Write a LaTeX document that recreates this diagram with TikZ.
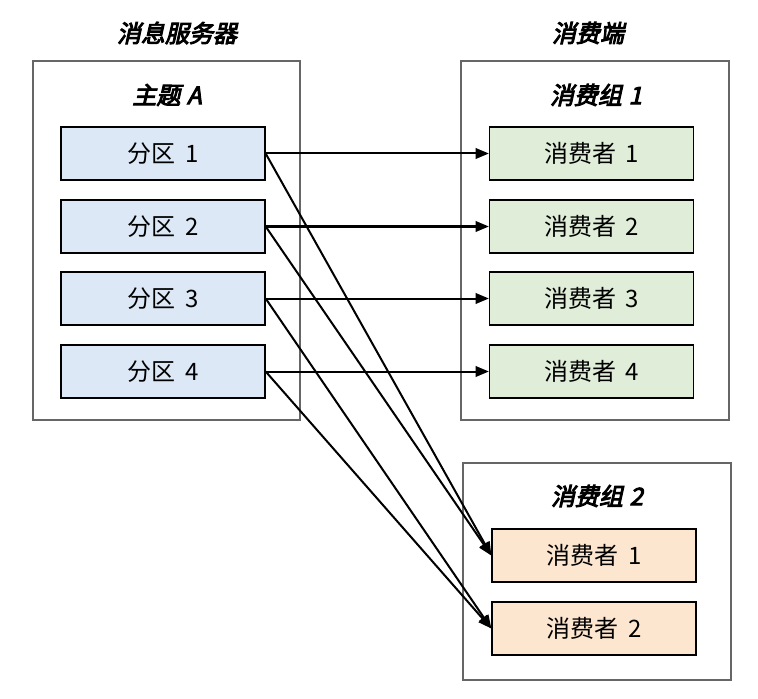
\documentclass[tikz,border=0pt]{standalone}
\usepackage{fontspec}
\setmainfont{Noto Sans CJK SC}
\newfontfamily\titlefont{Noto Sans CJK SC}[FakeSlant=0.22,FakeBold=4]
\usetikzlibrary{arrows.meta}
\definecolor{pblue}{HTML}{DCE8F6}
\definecolor{cgreen}{HTML}{E0EDD8}
\definecolor{corange}{HTML}{FDE6CF}
\definecolor{framegray}{HTML}{666666}
\tikzset{
  frame/.style={draw=framegray,line width=0.9pt,fill=none},
  itembox/.style={draw=black,line width=1pt,minimum width=153pt,minimum height=39.75pt,inner sep=0pt,font=\fontsize{18}{21}\selectfont},
  pbox/.style={itembox,fill=pblue},
  gbox/.style={itembox,fill=cgreen},
  obox/.style={itembox,fill=corange},
  ttl/.style={font=\titlefont\fontsize{18}{21}\selectfont,inner sep=0pt},
  conn/.style={line width=1.5pt,-{Triangle[length=10pt,width=8pt]}}
}
\begin{document}
\begin{tikzpicture}[x=0.75pt,y=-0.75pt]
\useasboundingbox (0,0) rectangle (758,699);
\fill[white] (0,0) rectangle (758,699);
% frames
\draw[frame] (33,61) rectangle (300,420);
\draw[frame] (461,61) rectangle (729,420);
\draw[frame] (463,463) rectangle (731,680);
% titles
\node[ttl] (tserver) at (177,33) {消息服务器};
\node[ttl] (tconsumer) at (588,33) {消费端};
\node[ttl] (ttopic) at (167,95) {主题\hspace{5pt}A};
\node[ttl] (tg1) at (596,95) {消费组\hspace{5pt}1};
\node[ttl] (tg2) at (597,496) {消费组\hspace{5pt}2};
% partitions
\node[pbox] (p1) at (163,153.5) {分区\ \,1};
\node[pbox] (p2) at (163,226.5) {分区\ \,2};
\node[pbox] (p3) at (163,298.5) {分区\ \,3};
\node[pbox] (p4) at (163,371.5) {分区\ \,4};
% group 1
\node[gbox] (a1) at (591.5,153.5) {消费者\ \,1};
\node[gbox] (a2) at (591.5,226.5) {消费者\ \,2};
\node[gbox] (a3) at (591.5,298.5) {消费者\ \,3};
\node[gbox] (a4) at (591.5,371.5) {消费者\ \,4};
% group 2
\node[obox] (b1) at (594,555.5) {消费者\ \,1};
\node[obox] (b2) at (594,628.5) {消费者\ \,2};
% connectors
\draw[conn] (p1.east) -- (a1.west);
\draw[conn] (p2.east) -- (a2.west);
\draw[conn] (p3.east) -- (a3.west);
\draw[conn] (p4.east) -- (a4.west);
\draw[conn] (p1.east) -- (b1.west);
\draw[conn] (p2.east) -- (b1.west);
\draw[conn] (p3.east) -- (b2.west);
\draw[conn] (p4.east) -- (b2.west);
\end{tikzpicture}
\end{document}
